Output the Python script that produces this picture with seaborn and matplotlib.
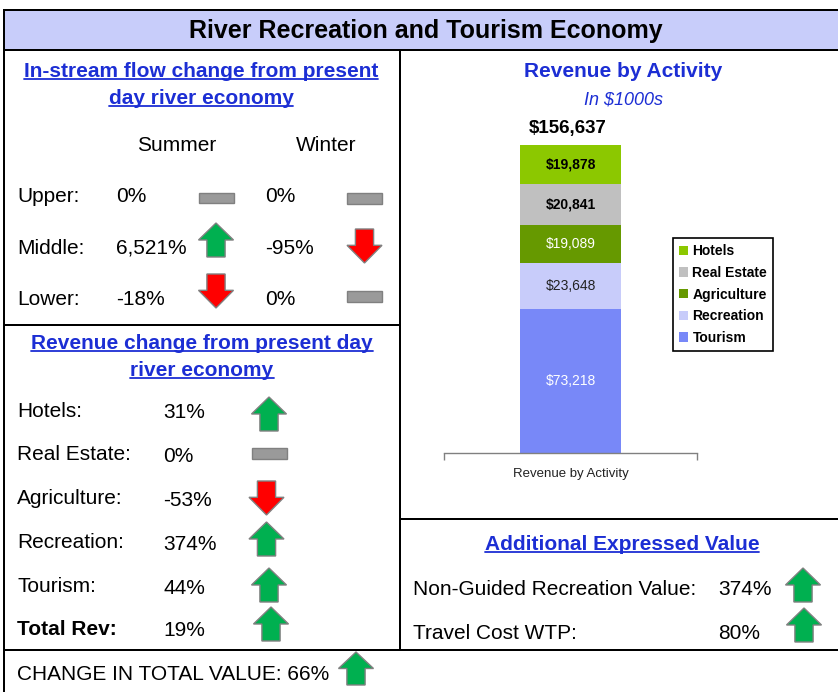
import numpy as np
import pandas as pd
import matplotlib
matplotlib.use("Agg")
import matplotlib.pyplot as plt
import seaborn as sns
from matplotlib.patches import Polygon, Rectangle

W, H = 838, 692

title = "River Recreation and Tourism Economy"

flow_regions = ["Upper", "Middle", "Lower"]
seasons = ["Summer", "Winter"]
summer_change = [0, 6521, -18]
winter_change = [0, -95, 0]

rev_items = ["Hotels", "Real Estate", "Agriculture", "Recreation", "Tourism", "Total Rev"]
rev_change = [31, 0, -53, 374, 44, 19]

extra_items = ["Non-Guided Recreation Value", "Travel Cost WTP"]
extra_change = [374, 80]

total_value_change = 66

chart_category = "Revenue by Activity"
activities = ["Tourism", "Recreation", "Agriculture", "Real Estate", "Hotels"]
revenue = [73218, 23648, 19089, 20841, 19878]
total_revenue_label = 156637  # as printed on the source chart
activity_colors = ["#7888F8", "#C8CCFA", "#669900", "#C0C0C0", "#8CC800"]
label_colors = ["white", "#222222", "white", "black", "black"]
label_weights = ["normal", "normal", "normal", "bold", "bold"]

BLUE = "#1C2ED4"
GREEN = "#00B050"
RED = "#FF0000"
GRAYBAR = "#9A9A9A"
EDGE = "#808080"
LW = 1.44

sns.set_theme(style="white")
plt.rcParams["font.family"] = ["Liberation Sans", "DejaVu Sans"]
plt.rcParams["text.color"] = "black"
plt.rcParams["axes.labelcolor"] = "black"


def indicator(ax, value, cx, top, w=35, h=34, bar_h=10):
    if value > 0:
        pts = [(cx, top), (cx + w / 2, top + 0.5 * h), (cx + 0.26 * w, top + 0.5 * h),
               (cx + 0.26 * w, top + h), (cx - 0.26 * w, top + h),
               (cx - 0.26 * w, top + 0.5 * h), (cx - w / 2, top + 0.5 * h)]
        ax.add_patch(Polygon(pts, closed=True, fc=GREEN, ec=EDGE, lw=1, zorder=3))
    elif value < 0:
        pts = [(cx - 0.26 * w, top), (cx + 0.26 * w, top), (cx + 0.26 * w, top + 0.48 * h),
               (cx + w / 2, top + 0.48 * h), (cx, top + h), (cx - w / 2, top + 0.48 * h),
               (cx - 0.26 * w, top + 0.48 * h)]
        ax.add_patch(Polygon(pts, closed=True, fc=RED, ec=EDGE, lw=1, zorder=3))
    else:
        ax.add_patch(Rectangle((cx - w / 2, top), w, bar_h, fc=GRAYBAR, ec=EDGE, lw=1, zorder=3))


def pct(v):
    return f"{v:,}%"


fig = plt.figure(figsize=(W / 100, H / 100), dpi=100)
bg = fig.add_axes([0, 0, 1, 1])
bg.set_xlim(0, W)
bg.set_ylim(H, 0)
bg.axis("off")

# frame
bg.add_patch(Rectangle((4, 10), W, 40, fc="#C8CDFA", ec="black", lw=LW))
bg.plot([4, 4], [50, H + 5], color="black", lw=LW)
bg.plot([400, 400], [50, 650], color="black", lw=LW)
bg.plot([4, 400], [325, 325], color="black", lw=LW)
bg.plot([400, W + 5], [519, 519], color="black", lw=LW)
bg.plot([4, W + 5], [650, 650], color="black", lw=LW)

bg.text(426, 38, title, ha="center", va="baseline", fontsize=18, fontweight="bold")

headings = []
for txt, x, y in [("In-stream flow change from present", 201, 77),
                  ("day river economy", 201, 104),
                  ("Revenue change from present day", 202, 349),
                  ("river economy", 202, 376),
                  ("Additional Expressed Value", 622, 550)]:
    headings.append(bg.text(x, y, txt, ha="center", va="baseline", fontsize=15,
                            fontweight="bold", color=BLUE))

# in-stream flow table
bg.text(177, 151, seasons[0], ha="center", va="baseline", fontsize=15)
bg.text(326, 151, seasons[1], ha="center", va="baseline", fontsize=15)
flow_base = [202, 254, 305]
summer_tops = [193, 223, 274]
winter_tops = [193, 229, 291]
for i, region in enumerate(flow_regions):
    bg.text(17, flow_base[i], region + ":", va="baseline", fontsize=15)
    bg.text(116, flow_base[i], pct(summer_change[i]), va="baseline", fontsize=15)
    bg.text(265, flow_base[i], pct(winter_change[i]), va="baseline", fontsize=15)
    indicator(bg, summer_change[i], 216, summer_tops[i])
    indicator(bg, winter_change[i], 364.5, winter_tops[i], bar_h=11)

# revenue change table
rev_base = [417, 460, 504, 548, 592, 635]
rev_cx = [269, 269.5, 266.5, 266.5, 269, 271]
rev_tops = [397, 448, 481, 522, 568, 607]
for i, item in enumerate(rev_items):
    weight = "bold" if item == "Total Rev" else "normal"
    bg.text(17, rev_base[i], item + ":", va="baseline", fontsize=15, fontweight=weight)
    bg.text(163, rev_base[i] + 1.5, pct(rev_change[i]), va="baseline", fontsize=15)
    indicator(bg, rev_change[i], rev_cx[i], rev_tops[i], bar_h=11)

# additional expressed value
extra_base = [595, 639]
extra_cx = [803, 804]
extra_tops = [568, 608]
for i, item in enumerate(extra_items):
    bg.text(413, extra_base[i], item + ":", va="baseline", fontsize=15)
    bg.text(718, extra_base[i], pct(extra_change[i]), va="baseline", fontsize=15)
    indicator(bg, extra_change[i], extra_cx[i], extra_tops[i])

bg.text(17, 680, f"CHANGE IN TOTAL VALUE: {pct(total_value_change)}", va="baseline", fontsize=15)
indicator(bg, total_value_change, 356, 652, h=33)

# chart titles
bg.text(623, 77, "Revenue by Activity", ha="center", va="baseline", fontsize=15,
        fontweight="bold", color=BLUE)
bg.text(623, 105, "In $1000s", ha="center", va="baseline", fontsize=13,
        fontstyle="italic", color=BLUE)

# stacked bar
ax = fig.add_axes([444 / W, (H - 453) / H, 253 / W, 308 / H])
ax.patch.set_alpha(0)
df = pd.DataFrame({"activity": activities, "revenue": revenue})
df["top"] = df["revenue"].cumsum()
for i in range(len(df) - 1, -1, -1):
    sns.barplot(x=[chart_category], y=[df["top"][i]], color=activity_colors[i], width=0.403,
                saturation=1, linewidth=0, errorbar=None, label=df["activity"][i], ax=ax)
stack_top = df["top"].iloc[-1]
ax.set_xlim(-0.5, 0.5)
ax.set_ylim(0, stack_top)
for i, row in df.iterrows():
    ax.text(0, row["top"] - row["revenue"] / 2, f"${row['revenue']:,}", ha="center", va="center",
            fontsize=10, color=label_colors[i], fontweight=label_weights[i])
ax.annotate(f"${total_revenue_label:,}", xy=(0, stack_top), xytext=(-3, 12),
            textcoords="offset pixels", ha="center", va="baseline", fontsize=13.5,
            fontweight="bold", color="black")

sns.despine(ax=ax, left=True)
ax.spines["bottom"].set_color(EDGE)
ax.spines["bottom"].set_linewidth(1)
ax.set_yticks([])
ax.set_xlabel("")
ax.set_ylabel("")
ax.tick_params(axis="x", which="major", length=0, pad=11, labelsize=9.5, labelcolor="#222222")
ax.set_xticks([-0.5, 0.5], minor=True)
ax.tick_params(axis="x", which="minor", length=5, width=1, color=EDGE, bottom=True)

handles, labels = ax.get_legend_handles_labels()
leg = ax.legend(handles, labels, loc="upper left", bbox_to_anchor=(673 / W, 1 - 238 / H),
                bbox_transform=fig.transFigure, frameon=True, fancybox=False, shadow=False,
                edgecolor="black", framealpha=1, borderaxespad=0,
                prop=dict(weight="bold", size=10), handlelength=0.65, handleheight=0.65,
                handletextpad=0.3, labelspacing=0.55, borderpad=0.45)
leg.get_frame().set_linewidth(1.2)
for t in leg.get_texts():
    t.set_color("black")

# underline headings
fig.canvas.draw()
renderer = fig.canvas.get_renderer()
for t in headings:
    bb = t.get_window_extent(renderer)
    y = t.get_position()[1] + 2
    bg.plot([bb.x0, bb.x1], [y, y], color=BLUE, lw=1.3)

fig.savefig("out.png", dpi=100)
